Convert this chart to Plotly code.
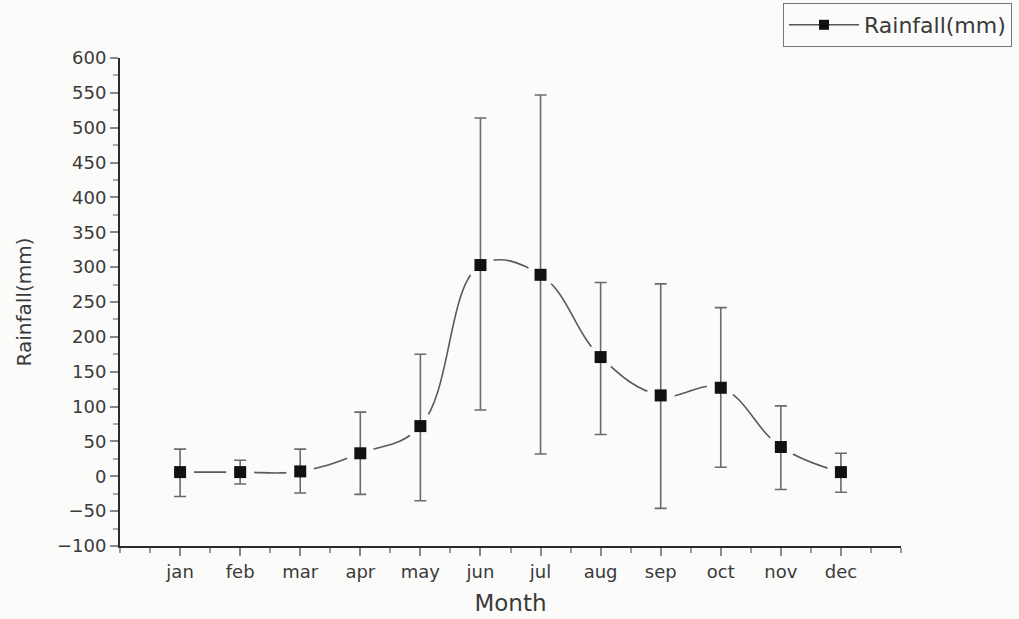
import plotly.graph_objects as go

# Monthly mean rainfall with standard-deviation error bars
months = ["jan", "feb", "mar", "apr", "may", "jun",
          "jul", "aug", "sep", "oct", "nov", "dec"]
month_pos = [1, 2, 3, 4, 5, 6, 7, 8, 9, 10, 11, 12]
rainfall = [6, 6, 7, 33, 72, 303, 289, 171, 116, 127, 42, 6]
err_plus = [33, 17, 32, 59, 103, 211, 258, 107, 160, 115, 59, 27]
err_minus = [35, 17, 31, 59, 107, 208, 257, 111, 162, 114, 61, 29]

BG = "#fbfbf9"
AXIS = "#2b2b2b"
TXT = "#3a3a3a"
FONT = "DejaVu Sans"

fig = go.Figure()

# smoothed connecting curve
fig.add_trace(go.Scatter(
    x=month_pos, y=rainfall, mode="lines",
    line=dict(color="#5a5a5a", width=1.6, shape="spline", smoothing=1.15),
    showlegend=False, hoverinfo="skip"))

# background-coloured discs leave a small gap in the curve around each symbol
fig.add_trace(go.Scatter(
    x=month_pos, y=rainfall, mode="markers",
    marker=dict(symbol="circle", size=28, color=BG, line=dict(width=0)),
    showlegend=False, hoverinfo="skip"))

# symbols with error bars
fig.add_trace(go.Scatter(
    x=month_pos, y=rainfall, mode="markers",
    marker=dict(symbol="square", size=12, color="#111111",
                line=dict(width=0)),
    error_y=dict(type="data", symmetric=False, array=err_plus,
                 arrayminus=err_minus, color="#6a6a70", thickness=1.6,
                 width=6),
    showlegend=False))

# legend entry
fig.add_trace(go.Scatter(
    x=[None], y=[None], mode="lines+markers", name="Rainfall(mm)",
    line=dict(color="#555555", width=1.4),
    marker=dict(symbol="square", size=10, color="#111111")))

fig.update_layout(
    width=1019, height=619,
    margin=dict(l=120, r=118, t=58, b=73, autoexpand=False),
    paper_bgcolor=BG, plot_bgcolor=BG,
    font=dict(family=FONT, color=TXT),
    legend=dict(
        xref="container", yref="container",
        x=1012 / 1019, xanchor="right", y=1 - 3 / 619, yanchor="top",
        bgcolor=BG, bordercolor="#777777", borderwidth=1,
        font=dict(size=22, color=TXT, family=FONT),
        itemwidth=70, tracegroupgap=0),
    xaxis=dict(
        range=[0, 13], showgrid=False, zeroline=False,
        showline=True, linecolor=AXIS, linewidth=2,
        tickmode="array", tickvals=month_pos, ticktext=months,
        ticks="outside", ticklen=8, tickwidth=2, tickcolor="#888888",
        tickfont=dict(size=18, color=TXT, family=FONT),
        minor=dict(tick0=0, dtick=0.5, ticks="outside", ticklen=5,
                   tickwidth=2, tickcolor="#999999"),
        title=dict(text="Month", font=dict(size=23, color=TXT, family=FONT),
                   standoff=14)),
    yaxis=dict(
        range=[-100, 600], showgrid=False, zeroline=False,
        showline=True, linecolor=AXIS, linewidth=2,
        tickmode="linear", tick0=-100, dtick=50,
        ticks="outside", ticklen=8, tickwidth=2, tickcolor="#888888",
        tickfont=dict(size=18, color=TXT, family=FONT),
        minor=dict(tick0=-100, dtick=25, ticks="outside", ticklen=5,
                   tickwidth=2, tickcolor="#aaaaaa"),
        title=dict(text="Rainfall(mm)",
                   font=dict(size=20, color=TXT, family=FONT),
                   standoff=20)),
)

fig.write_html("out.html")
